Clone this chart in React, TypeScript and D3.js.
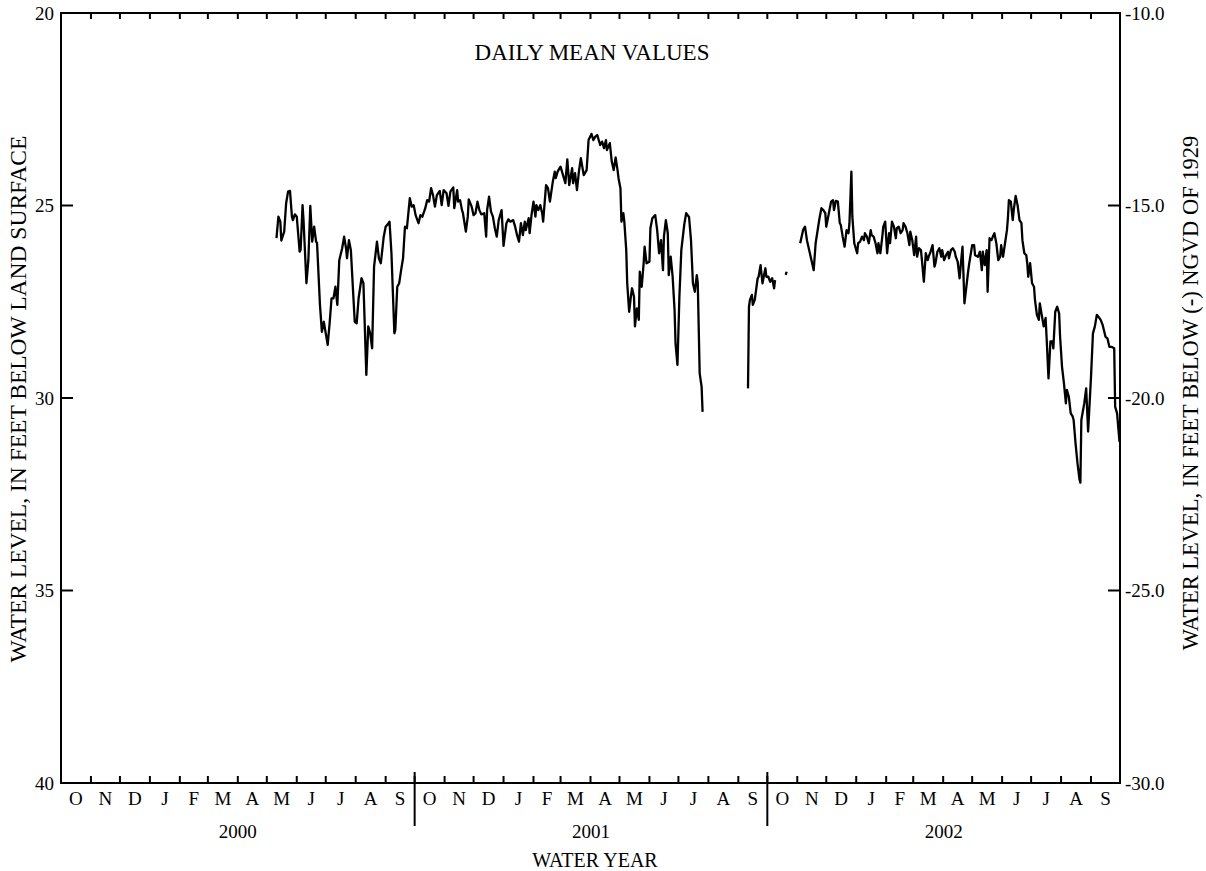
import { useEffect, useRef } from 'react';
import * as d3 from 'd3';

const monthLetters = ['O', 'N', 'D', 'J', 'F', 'M', 'A', 'M', 'J', 'J', 'A', 'S'];
const waterYears = ['2000', '2001', '2002'];
const leftTicks = [20, 25, 30, 35, 40];
const rightTicks = [-10, -15, -20, -25, -30];

// [day since 1999-10-01, water level (ft below land surface)]
const segA: [number, number][] = [
    [223, 25.85], [225, 25.29], [227, 25.42], [228, 25.91], [231, 25.68], [233, 24.94], [235, 24.64],
    [237, 24.62], [239, 25.29], [240, 25.38], [242, 25.23], [244, 25.29], [247, 26.2], [248, 26.15],
    [250, 24.99], [251, 25.38], [254, 27.02], [256, 26.42], [258, 25.01], [260, 25.94], [262, 25.55],
    [264, 25.94], [265, 25.98], [268, 27.58], [270, 28.28], [272, 28.02], [274, 28.32], [276, 28.62],
    [278, 28.06], [280, 27.41], [282, 27.41], [284, 27.11], [286, 27.58], [288, 26.42], [291, 26.11],
    [293, 25.81], [295, 26.11], [296, 26.37], [298, 25.9], [300, 26.16], [302, 27.1], [304, 28.02],
    [306, 28.06], [308, 27.41], [311, 26.89], [313, 27.02], [316, 29.4], [318, 28.14], [320, 28.32],
    [322, 28.71], [324, 26.59], [327, 25.94], [329, 26.37], [331, 26.5], [334, 25.81], [336, 25.55],
    [339, 25.46], [340, 25.42], [342, 26.24], [345, 28.32], [346, 28.23], [348, 27.11], [350, 27.02],
    [352, 26.68], [354, 26.37], [356, 25.55], [358, 25.59], [361, 24.81], [363, 25.03], [365, 24.99],
    [367, 25.25], [370, 25.46], [372, 25.25], [374, 25.29], [377, 25.07], [379, 24.86], [381, 24.9],
    [383, 24.55], [385, 24.73], [387, 25.03], [389, 24.73], [392, 24.62], [394, 24.99], [396, 24.6],
    [399, 24.68], [401, 25.01], [403, 24.64], [406, 24.53], [407, 25.07], [410, 24.6], [411, 24.9],
    [413, 24.86], [415, 25.12], [416, 25.2], [419, 25.68], [421, 25.29], [422, 24.84], [425, 25.03],
    [427, 25.25], [429, 25.2], [431, 24.9], [433, 25.12], [435, 25.23], [438, 25.2], [440, 25.81],
    [441, 25.12], [443, 24.77], [445, 25.16], [447, 25.29], [449, 25.59], [451, 25.81], [453, 25.38],
    [456, 25.12], [458, 26.05], [461, 25.46], [463, 25.36], [465, 25.42], [468, 25.38], [470, 25.55],
    [472, 25.77], [474, 25.94], [476, 25.46], [478, 25.77], [480, 25.42], [481, 25.64], [484, 25.33],
    [485, 25.72], [487, 25.24], [489, 24.9], [491, 25.29], [492, 24.99], [494, 25.12], [496, 24.99],
    [498, 25.2], [499, 25.42], [502, 24.47], [504, 24.55], [506, 24.9], [509, 24.38], [511, 24.12],
    [512, 24.29], [514, 24.12], [516, 24.03], [517, 23.99], [520, 24.25], [522, 24.42], [524, 23.8],
    [526, 24.47], [529, 24.03], [530, 24.42], [532, 24.16], [534, 24.6], [536, 24.12], [538, 23.77],
    [541, 24.21], [544, 24.08], [546, 23.3], [549, 23.14], [551, 23.3], [553, 23.21], [555, 23.17],
    [558, 23.43], [560, 23.34], [562, 23.51], [564, 23.3], [565, 23.56], [568, 23.38], [570, 23.86],
    [572, 24.08], [574, 23.75], [576, 24.08], [577, 24.29], [579, 24.55], [580, 25.42], [582, 25.2],
    [583, 25.42], [585, 26.16], [586, 27.02], [588, 27.76], [590, 27.32], [591, 27.15], [593, 27.37],
    [594, 28.14], [596, 27.67], [598, 27.97], [599, 26.72], [601, 27.11], [603, 26.5], [604, 26.07],
    [606, 26.5], [609, 26.46], [610, 25.59], [612, 25.33], [615, 25.25], [617, 25.64], [619, 26.24],
    [621, 25.9], [623, 26.68], [624, 25.81], [626, 25.38], [628, 25.72], [629, 26.81], [631, 26.33],
    [633, 26.85], [635, 27.71], [636, 28.58], [638, 29.14], [640, 27.37], [642, 26.16], [645, 25.5],
    [647, 25.2], [650, 25.3], [652, 25.9], [654, 27.02], [656, 27.24], [658, 26.81], [659, 27.0],
    [661, 29.36], [663, 29.71], [664, 30.36],
];

const segB: [number, number][] = [
    [711, 29.75], [712, 27.63], [713, 27.45], [715, 27.32], [716, 27.58], [718, 27.45], [721, 26.89],
    [722, 26.85], [724, 26.55], [726, 27.02], [729, 26.63], [730, 26.85], [732, 26.85], [734, 26.98],
    [736, 26.89], [738, 27.15], [739, 26.94],
];

const segC: [number, number][] = [
    [750, 26.8], [751, 26.72],
];

const segD: [number, number][] = [
    [765, 25.98], [768, 25.64], [770, 25.55], [772, 25.9], [779, 26.68], [781, 25.98], [785, 25.33],
    [787, 25.07], [789, 25.12], [791, 25.2], [792, 25.55], [794, 25.29], [797, 24.9], [799, 24.86],
    [800, 25.12], [802, 24.88], [804, 24.9], [806, 25.46], [807, 25.5], [809, 25.81], [811, 26.07],
    [813, 25.64], [815, 25.72], [816, 25.46], [818, 24.12], [819, 25.29], [821, 25.98], [824, 26.24],
    [825, 25.98], [827, 25.94], [829, 25.81], [831, 25.9], [832, 25.72], [834, 25.81], [836, 25.98],
    [838, 25.64], [839, 25.77], [841, 25.81], [843, 25.98], [845, 26.24], [846, 25.98], [848, 26.24],
    [850, 25.81], [851, 25.55], [853, 25.42], [855, 26.24], [857, 25.72], [858, 25.98], [860, 25.42],
    [862, 25.55], [864, 25.85], [865, 25.59], [867, 25.55], [869, 25.72], [871, 25.64], [872, 25.46],
    [874, 25.55], [876, 25.72], [878, 26.03], [879, 25.68], [881, 25.9], [883, 26.29], [885, 25.81],
    [886, 26.33], [888, 26.11], [890, 26.16], [891, 26.42], [893, 26.98], [895, 26.24], [897, 26.42],
    [898, 26.33], [900, 26.2], [902, 26.03], [904, 26.59], [905, 26.5], [907, 26.2], [909, 26.11],
    [911, 26.33], [912, 26.16], [914, 26.42], [916, 26.29], [918, 26.2], [919, 26.37], [921, 26.16],
    [923, 26.11], [925, 26.2], [926, 26.33], [928, 26.46], [930, 26.89], [932, 26.33], [933, 26.07],
    [935, 27.54], [939, 26.68], [940, 26.5], [943, 26.03], [945, 26.03], [946, 26.29], [949, 26.33],
    [951, 26.2], [953, 26.68], [954, 26.2], [956, 26.55], [958, 26.16], [959, 27.24], [961, 25.85],
    [963, 25.9], [965, 25.77], [966, 25.72], [968, 25.98], [970, 26.42], [972, 26.33], [973, 26.03],
    [975, 26.33], [977, 25.98], [979, 25.64], [980, 25.33], [981, 24.86], [983, 24.9], [985, 25.38],
    [986, 25.12], [988, 24.75], [990, 24.99], [992, 25.38], [994, 25.46], [995, 25.9], [997, 26.24],
    [999, 26.29], [1000, 26.5], [1001, 26.85], [1003, 26.5], [1005, 27.02], [1007, 27.11], [1008, 27.45],
    [1010, 27.84], [1012, 27.97], [1013, 27.54], [1015, 27.84], [1017, 28.14], [1019, 27.92], [1020, 28.41],
    [1022, 29.49], [1024, 28.53], [1026, 28.53], [1027, 28.71], [1029, 27.76], [1031, 27.63], [1033, 27.8],
    [1034, 28.41], [1036, 29.19], [1038, 29.62], [1040, 30.14], [1041, 29.79], [1043, 29.96], [1045, 30.4],
    [1047, 30.48], [1048, 30.57], [1050, 31.18], [1052, 31.69], [1054, 32.1], [1055, 32.2], [1056, 30.57],
    [1059, 30.14], [1061, 29.75], [1063, 30.87], [1066, 29.45], [1068, 28.32], [1070, 28.14], [1072, 27.84],
    [1074, 27.9], [1076, 27.97], [1078, 28.1], [1079, 28.2], [1081, 28.41], [1083, 28.45], [1085, 28.67],
    [1087, 28.67], [1090, 28.71], [1091, 30.23], [1093, 30.4], [1095, 31.0], [1095.5, 31.14],
];

const segments = [segA, segB, segC, segD];

const W = 1206;
const H = 871;

export default function App() {
    const svgRef = useRef<SVGSVGElement>(null);

    useEffect(() => {
        document.body.style.margin = '0';
        if (!svgRef.current) return;
        const svg = d3.select(svgRef.current);
        svg.selectAll('*').remove();

        const left = 61, right = 1120, top = 13, bottom = 783;
        const fs = 19;
        const start = new Date(1999, 9, 1);
        const end = new Date(2002, 9, 1);

        const x = d3.scaleTime().domain([start, end]).range([left, right]);
        const y = d3.scaleLinear().domain([20, 40]).range([top, bottom]);
        const y2 = d3.scaleLinear().domain([-10, -30]).range([top, bottom]);
        const dayX = (d: number) => x(d3.timeHour.offset(start, d * 24));

        const g = svg.append('g').style('font-family', 'Liberation Serif, Times New Roman, serif');

        // month ticks, top (down) and bottom (up)
        const months = d3.timeMonth.range(d3.timeMonth.offset(start, 1), end);
        g.selectAll('.tick-top')
            .data(months)
            .enter()
            .append('line')
            .attr('x1', (d) => x(d))
            .attr('x2', (d) => x(d))
            .attr('y1', top)
            .attr('y2', top + 6)
            .attr('stroke', '#000')
            .attr('stroke-width', 2);
        g.selectAll('.tick-bot')
            .data(months)
            .enter()
            .append('line')
            .attr('x1', (d) => x(d))
            .attr('x2', (d) => x(d))
            .attr('y1', bottom)
            .attr('y2', bottom - 7)
            .attr('stroke', '#000')
            .attr('stroke-width', 2);

        // water year separators
        const yearStarts = [new Date(2000, 9, 1), new Date(2001, 9, 1)];
        g.selectAll('.sep')
            .data(yearStarts)
            .enter()
            .append('line')
            .attr('x1', (d) => x(d))
            .attr('x2', (d) => x(d))
            .attr('y1', bottom - 11)
            .attr('y2', bottom + 43)
            .attr('stroke', '#000')
            .attr('stroke-width', 2);

        // month letters
        const allMonths = d3.timeMonth.range(start, end);
        g.selectAll('.mlabel')
            .data(allMonths)
            .enter()
            .append('text')
            .attr('x', (d) => (x(d) + x(d3.timeMonth.offset(d, 1))) / 2)
            .attr('y', bottom + 22)
            .attr('text-anchor', 'middle')
            .attr('font-size', fs)
            .text((_, i) => monthLetters[i % 12]);

        g.selectAll('.ylabel')
            .data(waterYears)
            .enter()
            .append('text')
            .attr('x', (_, i) => (x(new Date(1999 + i, 9, 1)) + x(new Date(2000 + i, 9, 1))) / 2)
            .attr('y', bottom + 55)
            .attr('text-anchor', 'middle')
            .attr('font-size', fs)
            .text((d) => d);

        // left axis
        g.selectAll('.lt')
            .data(leftTicks)
            .enter()
            .append('line')
            .attr('x1', left)
            .attr('x2', left + 12)
            .attr('y1', (d) => y(d))
            .attr('y2', (d) => y(d))
            .attr('stroke', '#000')
            .attr('stroke-width', 2);
        g.selectAll('.ll')
            .data(leftTicks)
            .enter()
            .append('text')
            .attr('x', left - 7)
            .attr('y', (d) => y(d))
            .attr('dy', '0.35em')
            .attr('text-anchor', 'end')
            .attr('font-size', fs)
            .text((d) => d);

        // right axis
        g.selectAll('.rt')
            .data(rightTicks)
            .enter()
            .append('line')
            .attr('x1', right)
            .attr('x2', right - 12)
            .attr('y1', (d) => y2(d))
            .attr('y2', (d) => y2(d))
            .attr('stroke', '#000')
            .attr('stroke-width', 2);
        g.selectAll('.rl')
            .data(rightTicks)
            .enter()
            .append('text')
            .attr('x', right + 5)
            .attr('y', (d) => y2(d))
            .attr('dy', '0.35em')
            .attr('font-size', fs)
            .text((d) => d.toFixed(1));

        // frame
        g.append('rect')
            .attr('x', left)
            .attr('y', top)
            .attr('width', right - left)
            .attr('height', bottom - top)
            .attr('fill', 'none')
            .attr('stroke', '#000')
            .attr('stroke-width', 2);

        // data
        const line = d3
            .line<[number, number]>()
            .x((d) => dayX(d[0]))
            .y((d) => y(d[1]));
        g.selectAll('.seg')
            .data(segments)
            .enter()
            .append('path')
            .attr('d', (d) => line(d))
            .attr('fill', 'none')
            .attr('stroke', '#000')
            .attr('stroke-width', 2.3)
            .attr('stroke-linejoin', 'round');

        // titles
        g.append('text')
            .attr('x', 592)
            .attr('y', 60)
            .attr('text-anchor', 'middle')
            .attr('font-size', 23)
            .text('DAILY MEAN VALUES');
        g.append('text')
            .attr('x', 595)
            .attr('y', 867)
            .attr('text-anchor', 'middle')
            .attr('font-size', 20)
            .text('WATER YEAR');
        g.append('text')
            .attr('transform', `translate(26,399) rotate(-90)`)
            .attr('text-anchor', 'middle')
            .attr('font-size', 23.5)
            .text('WATER LEVEL, IN FEET BELOW LAND SURFACE');
        g.append('text')
            .attr('transform', `translate(1198,393) rotate(-90)`)
            .attr('text-anchor', 'middle')
            .attr('font-size', 22.5)
            .text('WATER LEVEL, IN FEET BELOW (-) NGVD OF 1929');
    }, []);

    return <svg ref={svgRef} width={W} height={H} style={{ display: 'block', background: '#fff' }} />;
}
